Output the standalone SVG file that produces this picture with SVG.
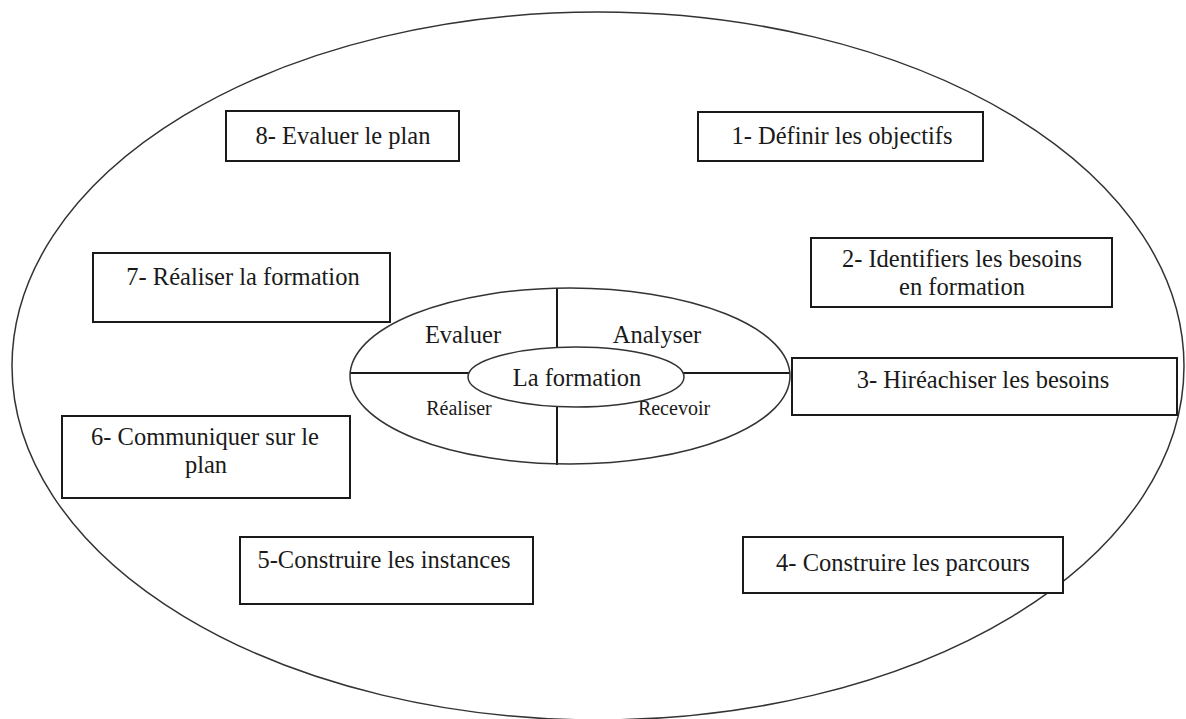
<svg xmlns="http://www.w3.org/2000/svg" width="1186" height="719" viewBox="0 0 1186 719">
<style>
.box{fill:#fff;stroke:#1a1a1a;stroke-width:2}
.ell{fill:none;stroke:#333;stroke-width:1.5}
.ln{stroke:#1a1a1a;stroke-width:2;fill:none}
.txt text{fill:#1a1a1a;text-anchor:middle}
.t{font-size:24.5px}
.s{font-size:20px}
</style>
<rect width="1186" height="719" fill="#fff"/>
<g id="outer"><ellipse class="ell" cx="598" cy="366" rx="586" ry="354"/></g>
<g id="connectors">
<line class="ln" x1="557" y1="288" x2="557" y2="348"/>
<line class="ln" x1="557" y1="407" x2="557" y2="465"/>
<line class="ln" x1="350" y1="373" x2="469" y2="373"/>
<line class="ln" x1="683" y1="373" x2="790" y2="373"/>
</g>
<g class="txt" font-family="'Liberation Serif', 'DejaVu Serif', serif">
<g id="cycle">
<ellipse class="ell" cx="570" cy="376" rx="220" ry="88"/>
<text class="t" x="463" y="343">Evaluer</text>
<text class="t" x="657" y="343">Analyser</text>
<text class="s" x="459" y="415">Réaliser</text>
<text class="s" x="674" y="415">Recevoir</text>
</g>
<g id="center">
<ellipse class="ell" cx="576" cy="377" rx="108" ry="30" fill="#fff"/>
<text class="t" x="577" y="386">La formation</text>
</g>
<g id="n8"><rect class="box" x="226" y="111" width="233" height="50"/><text class="t" x="343" y="144">8- Evaluer le plan</text></g>
<g id="n1"><rect class="box" x="698" y="112" width="285" height="49"/><text class="t" x="842" y="144">1- Définir les objectifs</text></g>
<g id="n2"><rect class="box" x="811" y="238" width="301" height="69"/><text class="t" x="962" y="267">2- Identifiers les besoins</text><text class="t" x="962" y="295">en formation</text></g>
<g id="n3"><rect class="box" x="792" y="358" width="385" height="57"/><text class="t" x="983" y="388">3- Hiréachiser les besoins</text></g>
<g id="n4"><rect class="box" x="743" y="537" width="320" height="56"/><text class="t" x="903" y="571">4- Construire les parcours</text></g>
<g id="n5"><rect class="box" x="240" y="537" width="293" height="67"/><text class="t" x="384" y="568">5-Construire les instances</text></g>
<g id="n6"><rect class="box" x="62" y="416" width="288" height="82"/><text class="t" x="205" y="445">6- Communiquer sur le</text><text class="t" x="206" y="473">plan</text></g>
<g id="n7"><rect class="box" x="93" y="253" width="297" height="69"/><text class="t" x="243" y="285">7- Réaliser la formation</text></g>
</g>
</svg>
